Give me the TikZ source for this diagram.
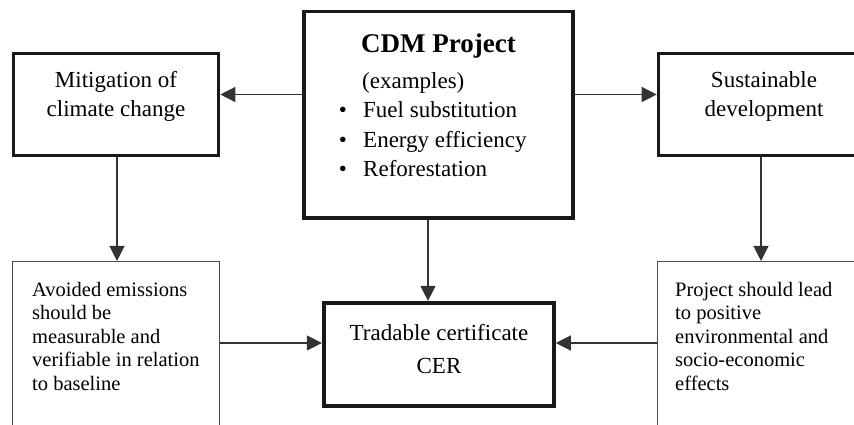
\documentclass[tikz,border=0pt]{standalone}
\usepackage{fontspec}
\setmainfont{Liberation Serif}
\usetikzlibrary{arrows.meta}
\begin{document}
\begin{tikzpicture}[x=1pt,y=-1pt,
  heavybox/.style={draw=black!90, line width=3.6pt, inner sep=0pt},
  lightbox/.style={draw=black!70, line width=1.3pt, inner sep=0pt},
  link/.style={draw=black!80, line width=1.3pt, -{Triangle[length=15pt,width=15pt]}},
  big/.style={font=\fontsize{23}{28}\selectfont, inner sep=0pt},
  small/.style={font=\fontsize{20.5}{23.6}\selectfont, inner sep=0pt},
  title/.style={font=\fontsize{27}{32}\selectfont\bfseries, inner sep=0pt}]
\useasboundingbox (0,0) rectangle (854,425);
\clip (0,0) rectangle (854,425);

% boxes
\node[heavybox, minimum width=205pt, minimum height=102pt] (mit) at (116,104.5) {};
\node[heavybox, minimum width=269pt, minimum height=206.5pt] (cdm) at (438.5,114.75) {};
\node[heavybox, minimum width=211pt, minimum height=102pt] (sus) at (764,104.5) {};
\node[heavybox, minimum width=230.3pt, minimum height=103pt] (cer) at (438.85,354.2) {};
\node[lightbox, minimum width=206.8pt, minimum height=220pt] (avo) at (116,371.6) {};
\node[lightbox, minimum width=220pt, minimum height=220pt] (eff) at (767.6,371.6) {};

% guide lines for connectors
\coordinate (rowA) at (0,94.5);
\coordinate (rowB) at (0,343);
\coordinate (colA) at (117,0);
\coordinate (colB) at (428,0);
\coordinate (colC) at (761,0);

% connectors
\draw[link] (cdm.west |- rowA) -- (mit.east |- rowA);
\draw[link] (cdm.east |- rowA) -- (sus.west |- rowA);
\draw[link] (mit.south -| colA) -- (avo.north -| colA);
\draw[link] (sus.south -| colC) -- (eff.north -| colC);
\draw[link] (cdm.south -| colB) -- (cer.north -| colB);
\draw[link] (avo.east |- rowB) -- (cer.west |- rowB);
\draw[link] (eff.west |- rowB) -- (cer.east |- rowB);

% texts of the upper boxes
\node[big, anchor=base] (mitA) at (116,88) {Mitigation of};
\node[big, anchor=base] (mitB) at (116,117) {climate change};
\node[big, anchor=base] (susA) at (764,88) {Sustainable};
\node[big, anchor=base] (susB) at (764,117) {development};

\node[title, anchor=base] (cdmT) at (438.5,53) {CDM Project};
\node[big, anchor=base west] (cdmE) at (362,89) {(examples)};
\foreach \t [count=\i] in {Fuel substitution, Energy efficiency, Reforestation} {
  \node[big, anchor=base] (dot\i) at (343,{89+29*\i}) {•};
  \node[big, anchor=base west] (item\i) at (363,{89+29*\i}) {\t};
}

% central certificate
\node[big, anchor=base] (cerA) at (439,340) {Tradable certificate};
\node[big, anchor=base] (cerB) at (439,373) {CER};

% lower side boxes
\foreach \t [count=\i] in {Avoided emissions, should be, measurable and, verifiable in relation, to baseline} {
  \node[small, anchor=base west] (avo\i) at (32,{296+23.6*(\i-1)}) {\t};
}
\foreach \t [count=\i] in {Project should lead, to positive, environmental and, socio-economic, effects} {
  \node[small, anchor=base west] (eff\i) at (675,{296+23.6*(\i-1)}) {\t};
}
\end{tikzpicture}
\end{document}
